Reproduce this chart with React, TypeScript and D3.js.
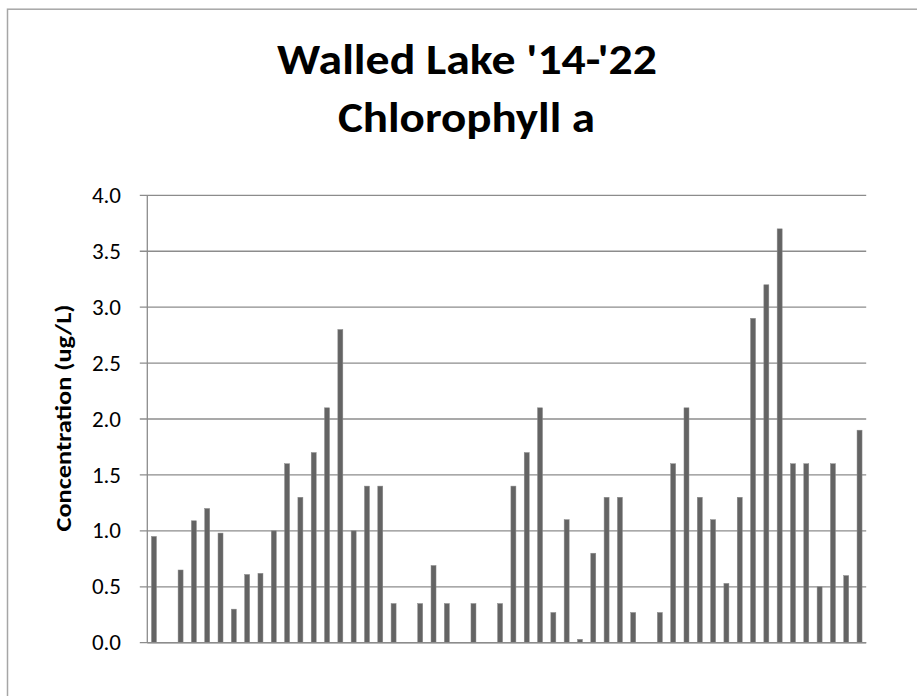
import React from "react";
import * as d3 from "d3";

const titleLines = ["Walled Lake '14-'22", "Chlorophyll a"];
const yAxisLabel = "Concentration (ug/L)";
const yTicks = [0, 0.5, 1.0, 1.5, 2.0, 2.5, 3.0, 3.5, 4.0];

// Sample values (ug/L); null = no sample
const chlorophyll: (number | null)[] = [
  0.95, null, 0.65, 1.09, 1.2, 0.98, 0.3, 0.61, 0.62, 1.0,
  1.6, 1.3, 1.7, 2.1, 2.8, 1.0, 1.4, 1.4, 0.35, null,
  0.35, 0.69, 0.35, null, 0.35, null, 0.35, 1.4, 1.7, 2.1,
  0.27, 1.1, 0.03, 0.8, 1.3, 1.3, 0.27, null, 0.27, 1.6,
  2.1, 1.3, 1.1, 0.53, 1.3, 2.9, 3.2, 3.7, 1.6, 1.6,
  0.5, 1.6, 0.6, 1.9,
];
const categories = chlorophyll.map((_, i) => `S${i + 1}`);

const W = 917;
const H = 696;
const plot = { left: 147.3, right: 866.2, top: 195.3, bottom: 642.7 };
const gridColor = "#8c8c8c";
const barColor = "#646464";
const font = "Calibri, Carlito, 'Open Sans', Lato, sans-serif";

export default function App() {
  const x = d3
    .scaleBand<string>()
    .domain(categories)
    .range([plot.left, plot.right])
    .paddingInner(0.625)
    .paddingOuter(0.3125);
  const y = d3.scaleLinear().domain([0, 4]).range([plot.bottom, plot.top]);

  return (
    <svg
      width={W}
      height={H}
      style={{ position: "absolute", left: 0, top: 0, background: "#fff" }}
    >
      <rect x={0} y={0} width={W} height={H} fill="#fff" />
      {/* chart area border (right/bottom off-canvas) */}
      <rect
        x={7.5}
        y={9.2}
        width={W + 20}
        height={H + 20}
        fill="none"
        stroke="#a6a6a6"
        strokeWidth={1.5}
      />
      {/* title */}
      <text
        x={467}
        y={74}
        textAnchor="middle"
        fontFamily={font}
        fontWeight="bold"
        fontSize={42}
        textLength={380}
        lengthAdjust="spacingAndGlyphs"
        fill="#000"
      >
        {titleLines[0]}
      </text>
      <text
        x={466.5}
        y={132}
        textAnchor="middle"
        fontFamily={font}
        fontWeight="bold"
        fontSize={42}
        textLength={257}
        lengthAdjust="spacingAndGlyphs"
        fill="#000"
      >
        {titleLines[1]}
      </text>
      {/* gridlines */}
      {yTicks.map((t) => (
        <line
          key={"g" + t}
          x1={plot.left - 7.5}
          x2={plot.right}
          y1={y(t)}
          y2={y(t)}
          stroke={gridColor}
          strokeWidth={1.3}
        />
      ))}
      {/* y axis line */}
      <line
        x1={plot.left}
        x2={plot.left}
        y1={plot.top}
        y2={plot.bottom}
        stroke={gridColor}
        strokeWidth={1.3}
      />
      {/* tick labels */}
      {yTicks.map((t) => (
        <text
          key={"t" + t}
          x={121}
          y={y(t)}
          dy="0.33em"
          textAnchor="end"
          fontFamily={font}
          fontSize={23}
          fill="#000"
        >
          {d3.format(".1f")(t)}
        </text>
      ))}
      {/* y axis title */}
      <text
        transform={`translate(70.5, ${(plot.top + plot.bottom) / 2 - 1}) rotate(-90)`}
        textAnchor="middle"
        fontFamily={font}
        fontWeight="bold"
        fontSize={22.5}
        textLength={227}
        lengthAdjust="spacingAndGlyphs"
        fill="#000"
      >
        {yAxisLabel}
      </text>
      {/* bars */}
      {chlorophyll.map((v, i) =>
        v == null ? null : (
          <rect
            key={"b" + i}
            x={x(categories[i])}
            y={y(v)}
            width={x.bandwidth()}
            height={y(0) - y(v)}
            fill={barColor}
            stroke="#8a8a8a"
            strokeWidth={0.5}
          />
        )
      )}
      {/* x axis line */}
      <line
        x1={plot.left}
        x2={plot.right}
        y1={plot.bottom}
        y2={plot.bottom}
        stroke={gridColor}
        strokeWidth={1.5}
      />
    </svg>
  );
}
